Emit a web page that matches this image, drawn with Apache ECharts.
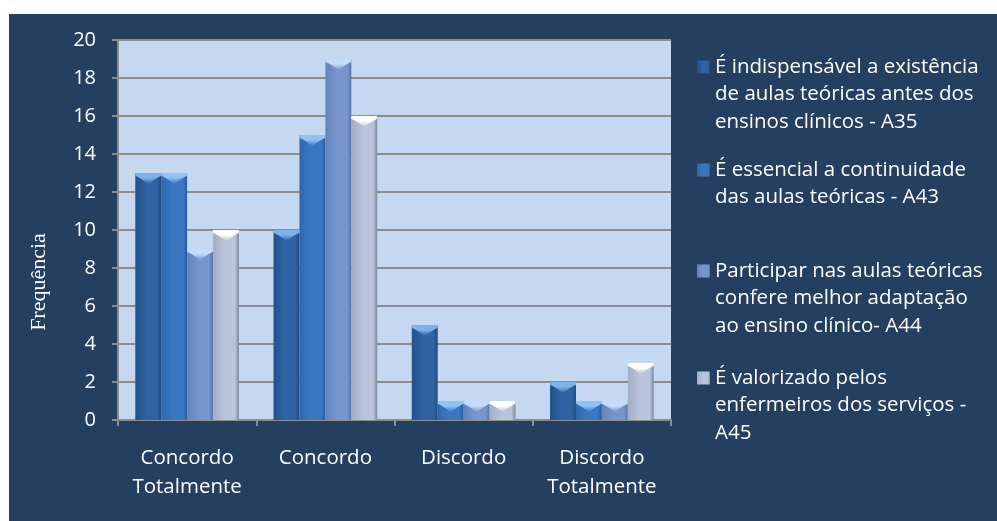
<!DOCTYPE html>
<html>
<head>
<meta charset="utf-8">
<script src="https://cdn.jsdelivr.net/npm/echarts@6/dist/echarts.min.js"></script>
<style>
  html, body { margin: 0; padding: 0; background: #ffffff; }
  #chart { position: absolute; left: 9px; top: 14px; width: 988px; height: 507px; }
</style>
</head>
<body>
<div id="chart"></div>
<script>
// Response categories (x axis)
const categories = ['Concordo\nTotalmente', 'Concordo', 'Discordo', 'Discordo\nTotalmente'];

// Statements (series names, shown in the legend)
const seriesNames = [
  'É indispensável a existência\nde aulas teóricas antes dos\nensinos clínicos - A35',
  'É essencial a continuidade\ndas aulas teóricas - A43',
  'Participar nas aulas teóricas\nconfere melhor adaptação\nao ensino clínico- A44',
  'É valorizado pelos\nenfermeiros dos serviços -\nA45'
];

// Frequencies per statement
const a35 = [13, 10, 5, 2];
const a43 = [13, 15, 1, 1];
const a44 = [9, 19, 1, 1];
const a45 = [10, 16, 1, 3];

// Y axis
const yMin = 0, yMax = 20, yStep = 2;

const values = [a35, a43, a44, a45];

// bevelled look: edge / centre / edge shades and the light top cap
const palette = [
  { edgeL: '#22508B', mid: '#2F63A4', edgeR: '#1F4778', cap: '#7FB0EA' },
  { edgeL: '#2E67AF', mid: '#3A77C3', edgeR: '#28599A', cap: '#8FC2F6' },
  { edgeL: '#6383BC', mid: '#7896CC', edgeR: '#5572A4', cap: '#C4DBFA' },
  { edgeL: '#A2AEC8', mid: '#B9C3DA', edgeR: '#7C879C', cap: '#FFFFFF' }
];

function sideGradient(p) {
  return new echarts.graphic.LinearGradient(0, 0, 1, 0, [
    { offset: 0, color: p.edgeL },
    { offset: 0.45, color: p.mid },
    { offset: 0.85, color: p.mid },
    { offset: 1, color: p.edgeR }
  ]);
}
function capGradient(p) {
  return new echarts.graphic.LinearGradient(0, 0, 0, 1, [
    { offset: 0, color: p.cap },
    { offset: 0.45, color: p.cap },
    { offset: 1, color: p.mid }
  ]);
}

const labelFont = 'Open Sans';
const BAR_GAP = '0%';
const CAT_GAP = '25%';

const series = [];
values.forEach(function (v, i) {
  series.push({
    type: 'bar',
    name: seriesNames[i],
    data: v,
    barGap: BAR_GAP,
    barCategoryGap: CAT_GAP,
    itemStyle: { color: sideGradient(palette[i]) },
    z: 2
  });
});
values.forEach(function (v, i) {
  series.push({
    type: 'pictorialBar',
    name: 'topo' + i,
    data: v,
    barGap: BAR_GAP,
    barCategoryGap: CAT_GAP,
    symbol: 'path://M0,0 L100,0 L100,25 L80,50 L50,100 L20,50 L0,25 Z',
    symbolSize: ['100%', 11],
    symbolPosition: 'end',
    symbolRepeat: false,
    itemStyle: { color: capGradient(palette[i]) },
    silent: true,
    z: 3
  });
});

// one legend block per statement; the icon path spans the whole text block
// with the visible square sitting beside the first line
const legendCentres = [67, 170, 271, 378];
const LINE_H = 27.5;
const ICON = 13;
const legends = seriesNames.map(function (name, i) {
  const n = name.split('\n').length;
  const h = n * LINE_H;
  const y0 = LINE_H / 2 - ICON / 2, y1 = LINE_H / 2 + ICON / 2;
  const iconPath = 'path://M0,' + y0 + ' L' + ICON + ',' + y0 + ' L' + ICON + ',' + y1 +
    ' L0,' + y1 + ' Z M0,0 L0,0 Z M' + ICON + ',' + h + ' L' + ICON + ',' + h + ' Z';
  return {
    orient: 'vertical',
    left: 688,
    top: legendCentres[i] - 14 - LINE_H / 2,
    padding: 0,
    align: 'left',
    selectedMode: false,
    icon: iconPath,
    itemWidth: ICON,
    itemHeight: h,
    itemGap: 0,
    data: [name],
    textStyle: {
      color: '#ffffff',
      fontFamily: labelFont,
      fontSize: 20.5,
      lineHeight: LINE_H
    }
  };
});

const chart = echarts.init(document.getElementById('chart'));
chart.setOption({
  backgroundColor: '#253F60',
  animation: false,
  grid: {
    left: 109, top: 26, right: 326, bottom: 101,
    show: true, backgroundColor: '#C6D8EF', borderWidth: 0
  },
  legend: legends,
  xAxis: {
    type: 'category',
    data: categories,
    axisLine: { show: true, lineStyle: { color: '#8C8C8C', width: 2 } },
    axisTick: { show: true, length: 6, lineStyle: { color: '#8C8C8C', width: 2 } },
    axisLabel: {
      interval: 0, color: '#ffffff', fontFamily: labelFont, fontSize: 20.5,
      lineHeight: 29, margin: 24
    }
  },
  yAxis: {
    type: 'value',
    min: yMin, max: yMax, interval: yStep,
    name: 'Frequência',
    nameLocation: 'middle',
    nameGap: 68,
    nameRotate: 90,
    nameTextStyle: {
      color: '#ffffff', fontFamily: 'Liberation Serif', fontSize: 22,
      padding: [0, 104, 0, 0]
    },
    axisLine: { show: true, lineStyle: { color: '#8C8C8C', width: 2 } },
    axisTick: { show: true, length: 6, lineStyle: { color: '#8C8C8C', width: 2 } },
    splitLine: { show: true, lineStyle: { color: '#8C8C8C', width: 2 } },
    axisLabel: { color: '#ffffff', fontFamily: labelFont, fontSize: 20, margin: 22 }
  },
  series: series
});
</script>
</body>
</html>
